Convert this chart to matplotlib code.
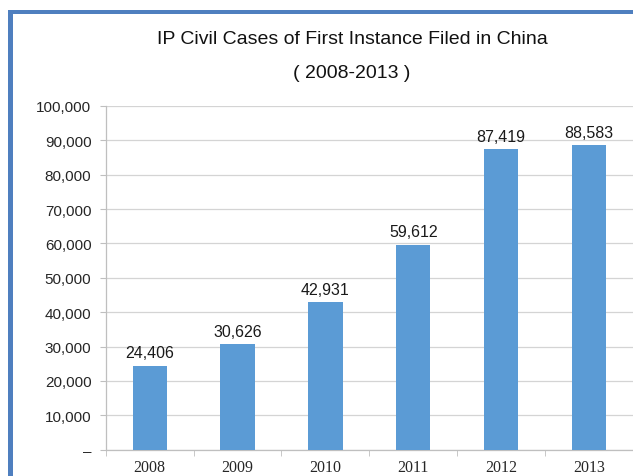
import matplotlib
matplotlib.use("Agg")
import matplotlib.pyplot as plt
from matplotlib.patches import Rectangle

years = ["2008", "2009", "2010", "2011", "2012", "2013"]
cases = [24406, 30626, 42931, 59612, 87419, 88583]
yticks = [0, 10000, 20000, 30000, 40000, 50000, 60000, 70000, 80000, 90000, 100000]
ytick_labels = ["–"] + ["{:,}".format(v) for v in yticks[1:]]

W, H = 633, 477
fig = plt.figure(figsize=(W / 100, H / 100), dpi=100)
fig.patch.set_facecolor("white")

# blue frame along the top and left edges
frame_col = "#4f7fbf"
fig.add_artist(Rectangle((8 / W, 1 - 15 / H), 1 - 8 / W, 4 / H,
                         transform=fig.transFigure, color=frame_col, lw=0))
fig.add_artist(Rectangle((8 / W, 0), 4.5 / W, 1 - 11 / H,
                         transform=fig.transFigure, color=frame_col, lw=0))

ax = fig.add_axes([105.7 / W, 1 - 450.7 / H, 1 - 105.7 / W, (450.7 - 107) / H])

x = list(range(len(years)))
bars = ax.bar(x, cases, width=0.39, color="#5b9bd5", zorder=3)

for xi, v in zip(x, cases):
    ax.annotate("{:,}".format(v), (xi, v), xytext=(0, 4), textcoords="offset points",
                ha="center", va="bottom", fontsize=11.5, color="#1a1a1a",
                family="Liberation Sans", zorder=4)

ax.set_xlim(-0.5, len(years) - 0.5)
ax.set_ylim(0, 100000)

ax.set_yticks(yticks)
ax.set_yticklabels(ytick_labels, family="Liberation Sans", fontsize=11, color="#262626")
ax.tick_params(axis="y", length=4.3, color="#bfbfbf", pad=6)
ax.grid(axis="y", color="#d4d4d4", lw=0.9, zorder=0)

ax.set_xticks(x)
ax.set_xticklabels(years, family="Liberation Serif", fontsize=11.5, color="#262626")
ax.set_xticks([i - 0.5 for i in range(len(years) + 1)], minor=True)
ax.tick_params(axis="x", which="major", length=0, pad=7)
ax.tick_params(axis="x", which="minor", length=4, color="#bfbfbf")

for s in ["top", "right"]:
    ax.spines[s].set_visible(False)
for s in ["left", "bottom"]:
    ax.spines[s].set_color("#bfbfbf")
    ax.spines[s].set_linewidth(0.9)

fig.text(352 / W, 1 - 40 / H, "IP Civil Cases of First Instance Filed in China",
         ha="center", va="center", fontsize=14, family="Liberation Sans", color="#111111")
fig.text(352 / W, 1 - 73 / H, "( 2008-2013 )",
         ha="center", va="center", fontsize=14, family="Liberation Sans", color="#111111")

fig.savefig("out.png", dpi=100)
